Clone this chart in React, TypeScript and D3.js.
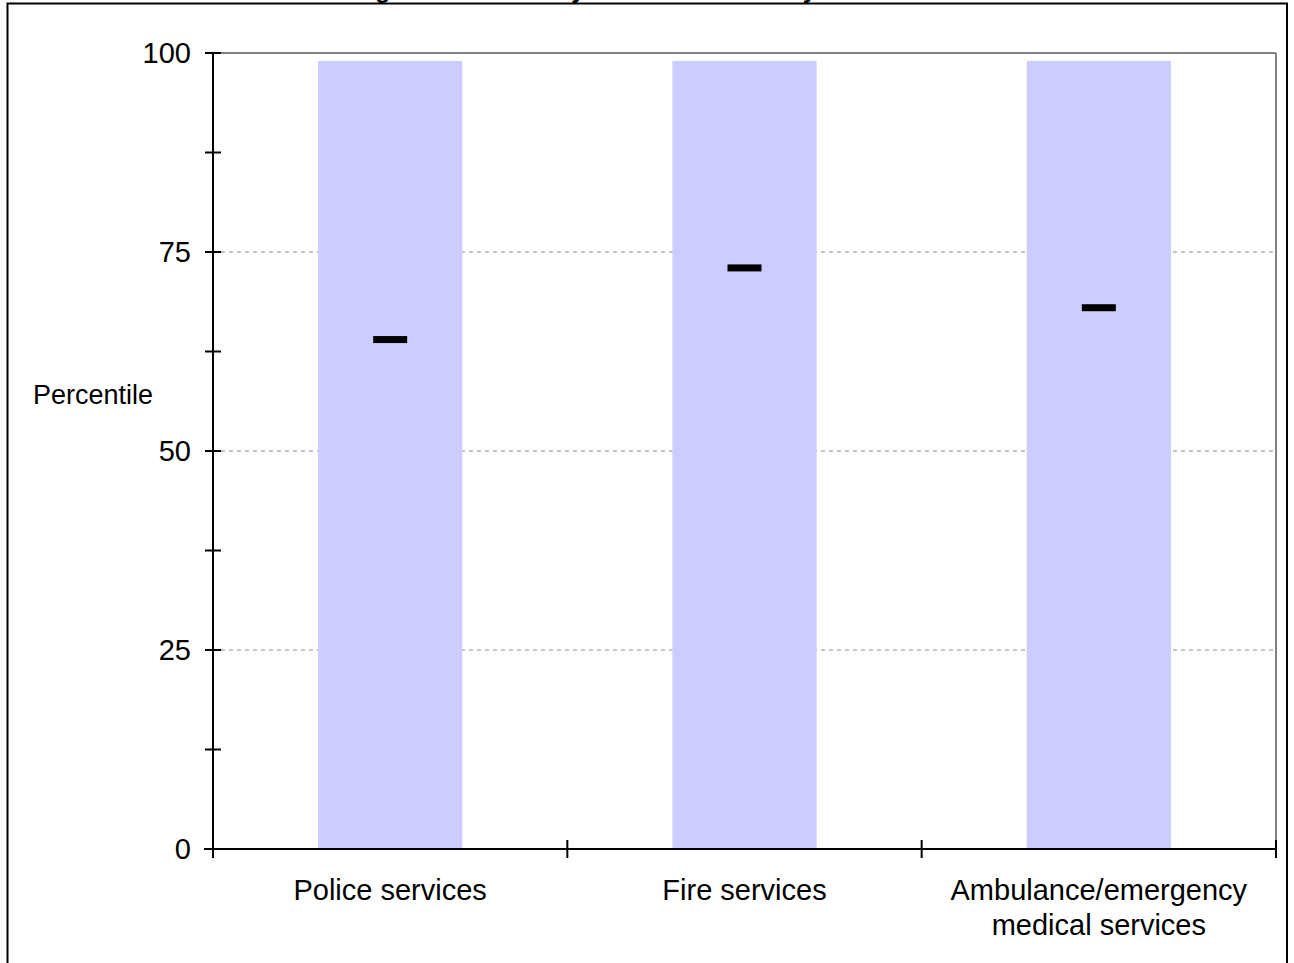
import React from "react";
import * as d3 from "d3";

const categories: string[][] = [
  ["Police services"],
  ["Fire services"],
  ["Ambulance/emergency", "medical services"],
];
const barTops: number[] = [99, 99, 99];
const percentiles: number[] = [64, 73, 68];
const majorTicks: number[] = [0, 25, 50, 75, 100];
const minorTicks: number[] = [12.5, 37.5, 62.5, 87.5];
const gridTicks: number[] = [25, 50, 75];
const titleText = "Rankings of Local Safety Services Nationally";
const yAxisTitle = "Percentile";

const W = 1294;
const H = 963;
const left = 213;
const right = 1276;
const top = 53;
const bottom = 849;
const font = "Arial, 'Liberation Sans', sans-serif";
const fs = 29;

export default function App() {
  const x = d3
    .scaleBand<number>()
    .domain(categories.map((_, i) => i))
    .range([left, right])
    .paddingInner(0)
    .paddingOuter(0);
  const y = d3.scaleLinear().domain([0, 100]).range([bottom, top]);
  const bw = x.bandwidth();
  const barW = bw * 0.407;
  const markW = 34;

  const boundaries = d3.range(categories.length + 1).map((i) =>
    i < categories.length ? (x(i) as number) : right
  );

  return (
    <svg
      width={W}
      height={H}
      style={{ position: "absolute", left: 0, top: 0, background: "#fff" }}
      fontFamily={font}
    >
      <rect x={0} y={0} width={W} height={H} fill="#fff" />
      <text
        x={555}
        y={-2}
        textAnchor="middle"
        fontSize={24.5}
        fontWeight="bold"
        fill="#000"
      >
        {titleText}
      </text>
      <rect
        x={7.5}
        y={3.5}
        width={1279.5}
        height={H + 10}
        fill="none"
        stroke="#000"
        strokeWidth={2}
      />
      {gridTicks.map((t) => (
        <line
          key={"g" + t}
          x1={left}
          x2={right}
          y1={y(t)}
          y2={y(t)}
          stroke="#b3b3b3"
          strokeWidth={1.5}
          strokeDasharray="4,4"
        />
      ))}
      <line x1={left} x2={right} y1={top} y2={top} stroke="#808080" strokeWidth={2} />
      <line x1={right} x2={right} y1={top} y2={bottom} stroke="#808080" strokeWidth={2} />
      {barTops.map((v, i) => (
        <rect
          key={"b" + i}
          x={(x(i) as number) + (bw - barW) / 2}
          y={y(v)}
          width={barW}
          height={y(0) - y(v)}
          fill="#ccccff"
        />
      ))}
      {percentiles.map((v, i) => (
        <rect
          key={"m" + i}
          x={(x(i) as number) + bw / 2 - markW / 2}
          y={y(v) - 3.5}
          width={markW}
          height={7}
          fill="#000"
        />
      ))}
      <line x1={left} x2={left} y1={top} y2={bottom} stroke="#000" strokeWidth={2} />
      <line x1={left - 9} x2={right} y1={bottom} y2={bottom} stroke="#000" strokeWidth={2} />
      {majorTicks.concat(minorTicks).map((t) => (
        <line
          key={"t" + t}
          x1={left - 8}
          x2={left + 8}
          y1={y(t)}
          y2={y(t)}
          stroke="#000"
          strokeWidth={2}
        />
      ))}
      {majorTicks.map((t) => (
        <text
          key={"l" + t}
          x={left - 22}
          y={y(t)}
          dy="0.35em"
          textAnchor="end"
          fontSize={fs}
          fill="#000"
        >
          {t}
        </text>
      ))}
      {boundaries.map((b, i) => (
        <line
          key={"xt" + i}
          x1={b}
          x2={b}
          y1={bottom - 9}
          y2={bottom + 9}
          stroke="#000"
          strokeWidth={2}
        />
      ))}
      {categories.map((lines, i) => (
        <text
          key={"c" + i}
          x={(x(i) as number) + bw / 2}
          y={900}
          textAnchor="middle"
          fontSize={fs}
          fill="#000"
        >
          {lines.map((ln, j) => (
            <tspan key={j} x={(x(i) as number) + bw / 2} dy={j === 0 ? 0 : 35}>
              {ln}
            </tspan>
          ))}
        </text>
      ))}
      <text x={33} y={404} fontSize={27} fill="#000">
        {yAxisTitle}
      </text>
    </svg>
  );
}
